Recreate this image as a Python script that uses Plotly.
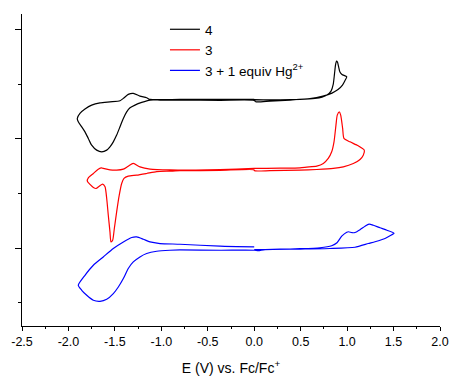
import plotly.graph_objects as go

# Cyclic voltammograms (E in V vs Fc/Fc+, current in arbitrary units)
e_4 = [0.00, 0.278, 0.493, 0.654, 0.730, 0.783, 0.827, 0.851, 0.864, 0.875, 0.886, 0.896, 0.907, 0.923, 0.945, 0.996,
       0.977, 0.950, 0.902, 0.837, 0.740, 0.600, 0.385, 0.170, 0.019, -0.002,
       -0.368, -0.799, -1.014, -1.122, -1.211, -1.284, -1.337, -1.373, -1.409, -1.445, -1.481, -1.517, -1.553,
       -1.588, -1.642, -1.696, -1.750, -1.786, -1.822, -1.857, -1.894, -1.905,
       -1.876, -1.822, -1.750, -1.660, -1.553, -1.445, -1.409, -1.356, -1.302, -1.230, -1.158, -1.122,
       -0.799, -0.368, 0.00]
i_4 = [2.720, 2.714, 2.723, 2.742, 2.766, 2.802, 2.875, 3.004, 3.187, 3.352, 3.425, 3.407, 3.333, 3.223, 3.178, 3.137,
       3.068, 2.985, 2.903, 2.839, 2.784, 2.736, 2.711, 2.692, 2.679, 2.705,
       2.707, 2.709, 2.711, 2.711, 2.668, 2.619, 2.570, 2.496, 2.375, 2.222, 2.070, 1.947, 1.855,
       1.795, 1.764, 1.795, 1.886, 2.009, 2.130, 2.222, 2.313, 2.375,
       2.467, 2.546, 2.619, 2.661, 2.679, 2.698, 2.742, 2.815, 2.833, 2.784, 2.753, 2.723,
       2.723, 2.723, 2.723]

e_3 = [0.00, 0.278, 0.493, 0.565, 0.673, 0.744, 0.797, 0.834, 0.859, 0.880, 0.894, 0.916, 0.931, 0.952, 0.966,
       1.031, 1.120, 1.185,
       1.174, 1.139, 1.067, 0.959, 0.851, 0.673, 0.493, 0.170, 0.008, -0.008,
       -0.368, -0.799, -0.907, -1.050, -1.158, -1.265, -1.356, -1.402, -1.427, -1.453, -1.481, -1.506, -1.524,
       -1.542, -1.553, -1.571, -1.588, -1.606, -1.631, -1.668, -1.703, -1.732, -1.768, -1.797,
       -1.786, -1.732, -1.679, -1.642, -1.625, -1.553, -1.481, -1.409, -1.356, -1.302, -1.230, -1.122,
       -0.907, -0.368, 0.00]
i_3 = [1.460, 1.465, 1.471, 1.484, 1.502, 1.551, 1.643, 1.764, 1.947, 2.253, 2.436, 2.496, 2.436, 2.192, 2.009,
       1.947, 1.874, 1.795,
       1.703, 1.625, 1.551, 1.489, 1.460, 1.441, 1.429, 1.419, 1.416, 1.438,
       1.425, 1.418, 1.410, 1.401, 1.368, 1.337, 1.319, 1.277, 1.185, 0.971, 0.665, 0.361, 0.147,
       0.115, 0.299, 0.604, 0.910, 1.123, 1.172, 1.136, 1.093, 1.112, 1.167, 1.227,
       1.288, 1.368, 1.447, 1.471, 1.460, 1.434, 1.429, 1.447, 1.502, 1.551, 1.489, 1.447,
       1.432, 1.441, 1.460]

e_3hg = [0.00, 0.116, 0.278, 0.493, 0.708, 0.834, 0.891, 0.942, 0.996, 1.015, 1.053, 1.085, 1.139, 1.193, 1.236,
         1.282, 1.354, 1.429, 1.505,
         1.462, 1.408, 1.300, 1.228, 1.085, 0.816, 0.493, 0.116, 0.044, 0.00,
         -0.368, -0.799, -0.907, -1.050, -1.158, -1.230, -1.302, -1.356, -1.409, -1.463, -1.517, -1.588,
         -1.660, -1.732, -1.803, -1.857, -1.894,
         -1.822, -1.732, -1.625, -1.517, -1.409, -1.319, -1.265, -1.194, -1.122, -1.014, -0.799, -0.368, 0.00]
i_3hg = [-0.027, -0.024, -0.018, -0.009, 0.009, 0.046, 0.101, 0.220, 0.293, 0.302, 0.284, 0.288, 0.339, 0.403, 0.440,
         0.421, 0.375, 0.330, 0.275,
         0.229, 0.178, 0.119, 0.086, 0.018, -0.005, -0.015, -0.024, -0.046, -0.037,
         -0.037, -0.031, -0.037, -0.055, -0.097, -0.159, -0.251, -0.372, -0.555, -0.709, -0.830, -0.934,
         -0.971, -0.952, -0.861, -0.769, -0.678,
         -0.495, -0.311, -0.159, -0.005, 0.115, 0.196, 0.207, 0.165, 0.115, 0.086, 0.073, 0.037, 0.024]

series_names = ["4", "3", "3 + 1 equiv Hg<sup>2+</sup>"]
series_colors = ["#000000", "#ff0000", "#0000ff"]

x_tick_vals = [-2.5, -2.0, -1.5, -1.0, -0.5, 0.0, 0.5, 1.0, 1.5, 2.0]
x_tick_labels = ["-2.5", "-2.0", "-1.5", "-1.0", "-0.5", "0.0", "0.5", "1.0", "1.5", "2.0"]

fig = go.Figure()
for e, i, name, col in zip([e_4, e_3, e_3hg], [i_4, i_3, i_3hg], series_names, series_colors):
    fig.add_trace(go.Scatter(x=e, y=i, mode="lines", name=name,
                             line=dict(color=col, width=1.2, shape="spline", smoothing=0.6)))

fig.update_layout(
    width=450, height=376,
    margin=dict(l=22, r=10, t=14, b=50, autoexpand=False),
    paper_bgcolor="white", plot_bgcolor="white",
    font=dict(family="Liberation Sans, Arial, sans-serif", color="black"),
    showlegend=True,
    legend=dict(x=0.342, y=1.0, xanchor="left", yanchor="top",
                bgcolor="rgba(0,0,0,0)", font=dict(size=13.5), tracegroupgap=0),
)
fig.update_xaxes(
    range=[-2.5, 2.0], showgrid=False, zeroline=False, automargin=False,
    showline=True, linecolor="black", linewidth=1,
    tickmode="array", tickvals=x_tick_vals, ticktext=x_tick_labels,
    ticks="outside", ticklen=4, tickcolor="black", tickwidth=1,
    minor=dict(dtick=0.25, ticks="outside", ticklen=2, tickcolor="black", tickwidth=1, showgrid=False),
    tickfont=dict(size=12.5),
    title=dict(text="E (V) vs. Fc/Fc<sup>+</sup>", font=dict(size=14), standoff=15),
)
fig.update_yaxes(
    range=[-1.423, 4.286], showgrid=False, zeroline=False, automargin=False,
    showline=True, linecolor="black", linewidth=1,
    tickmode="array", tickvals=[0, 2, 4], showticklabels=False,
    ticks="outside", ticklen=6, tickcolor="black", tickwidth=1,
    minor=dict(tickmode="array", tickvals=[-1, 1, 3], ticks="outside", ticklen=3, tickcolor="black", tickwidth=1, showgrid=False),
)

# remove the default 8 px body margin so the 450x376 figure fills the window exactly
fig.write_html("out.html", config={"displayModeBar": False},
               post_script="document.body.style.margin='0px';")
